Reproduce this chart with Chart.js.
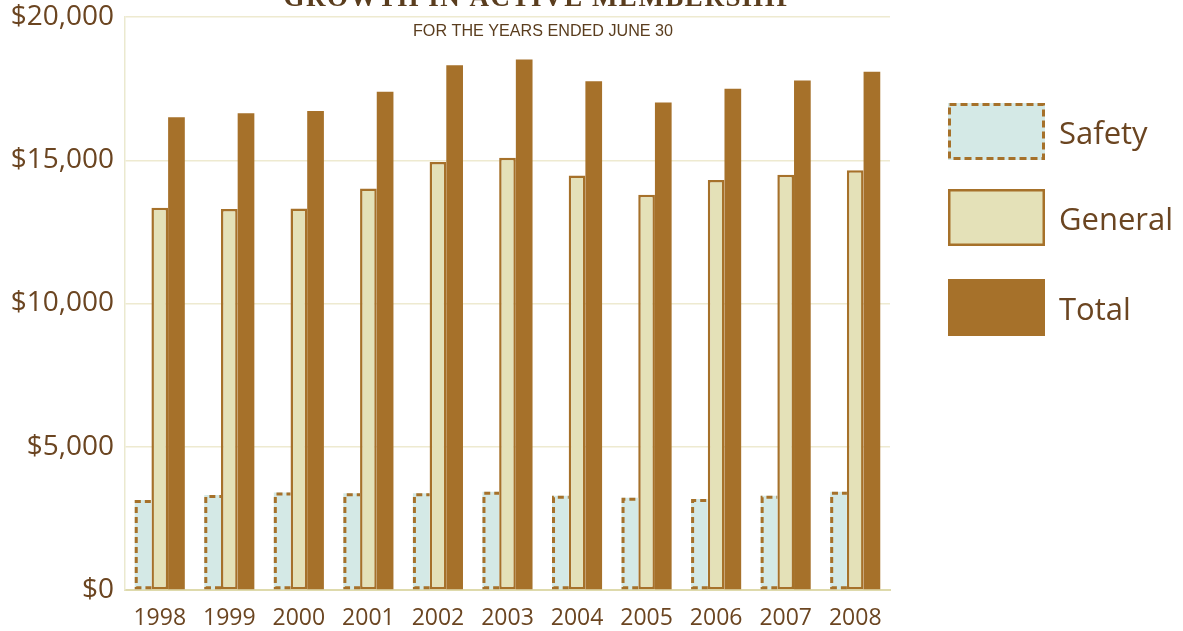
<!DOCTYPE html>
<html>
<head>
<meta charset="utf-8">
<title>Growth in Active Membership</title>
<script src="https://cdn.jsdelivr.net/npm/chart.js@4.4.1/dist/chart.umd.min.js"></script>
<style>
  html, body { margin: 0; padding: 0; background: #fff; }
  #wrap { width: 1183px; height: 631px; }
</style>
</head>
<body>
<div id="wrap"><canvas id="membershipChart" width="1183" height="631"></canvas></div>
<script>
var years = ["1998", "1999", "2000", "2001", "2002", "2003", "2004", "2005", "2006", "2007", "2008"];
var safety = [3140, 3315, 3400, 3375, 3375, 3430, 3290, 3220, 3175, 3290, 3430];
var general = [13340, 13300, 13320, 14010, 14940, 15090, 14470, 13800, 14310, 14490, 14650];
var total = [16500, 16640, 16720, 17390, 18320, 18520, 17760, 17020, 17500, 17780, 18090];
var yTicks = [0, 5000, 10000, 15000, 20000];

var brown = "#a6712a";
var textBrown = "#6b4521";
var safetyFill = "#d4e9e6";
var generalFill = "#e4e1b8";

// safety bars get a dashed outline (left, top, bottom) drawn on top of the fill
var dashedSafety = {
  id: "dashedSafety",
  afterDatasetDraw: function (chart, args) {
    if (args.index !== 0) return;
    var ctx = chart.ctx;
    ctx.save();
    ctx.strokeStyle = brown;
    ctx.lineWidth = 3;
    ctx.setLineDash([6, 4]);
    args.meta.data.forEach(function (bar) {
      var p = bar.getProps(["x", "y", "base", "width"], true);
      var l = p.x - p.width / 2 + 1.5;
      var r = p.x + p.width / 2;
      ctx.beginPath();
      ctx.moveTo(r, p.base - 1.5);
      ctx.lineTo(l, p.base - 1.5);
      ctx.lineTo(l, p.y + 1.5);
      ctx.lineTo(r, p.y + 1.5);
      ctx.stroke();
    });
    ctx.restore();
  }
};

// headline and subheading
var headings = {
  id: "headings",
  afterDraw: function (chart) {
    var ctx = chart.ctx;
    ctx.save();
    ctx.fillStyle = "#5a3d1e";
    ctx.textAlign = "center";
    ctx.textBaseline = "alphabetic";
    ctx.font = "bold 27px 'Liberation Serif'";
    ctx.letterSpacing = "1.5px";
    ctx.fillText("GROWTH IN ACTIVE MEMBERSHIP", 539, 6);
    ctx.letterSpacing = "0px";

    var sub = "FOR THE YEARS ENDED JUNE 30";
    ctx.font = "16px 'Liberation Sans'";
    var w = ctx.measureText(sub).width;
    ctx.translate(543, 36);
    ctx.scale(260 / w, 1);
    ctx.fillText(sub, 0, 0);
    ctx.restore();
  }
};

// legend boxes on the right
var sideLegend = {
  id: "sideLegend",
  afterDraw: function (chart) {
    var ctx = chart.ctx;
    var tops = [103, 189, 279];
    ctx.save();
    chart.data.datasets.forEach(function (ds, i) {
      var x = 948, y = tops[i], w = 97, h = 57;
      ctx.fillStyle = ds.backgroundColor;
      ctx.fillRect(x, y, w, h);
      if (i === 0) {
        ctx.strokeStyle = brown;
        ctx.lineWidth = 3;
        ctx.setLineDash([7, 4]);
        ctx.strokeRect(x + 1.5, y + 1.5, w - 3, h - 3);
        ctx.setLineDash([]);
      } else if (i === 1) {
        ctx.strokeStyle = brown;
        ctx.lineWidth = 2.5;
        ctx.strokeRect(x + 1.25, y + 1.25, w - 2.5, h - 2.5);
      }
      ctx.fillStyle = textBrown;
      ctx.font = "31px 'Open Sans'";
      ctx.textAlign = "left";
      ctx.textBaseline = "middle";
      ctx.fillText(ds.label, 1059, y + h / 2 + 4);
    });
    ctx.restore();
  }
};

var ctx = document.getElementById("membershipChart");

new Chart(ctx, {
  type: "bar",
  data: {
    labels: years,
    datasets: [
      {
        label: "Safety",
        data: safety,
        backgroundColor: safetyFill,
        borderWidth: 0
      },
      {
        label: "General",
        data: general,
        backgroundColor: generalFill,
        borderColor: brown,
        borderWidth: 2.5,
        borderSkipped: false
      },
      {
        label: "Total",
        data: total,
        backgroundColor: brown,
        borderWidth: 0
      }
    ]
  },
  options: {
    responsive: false,
    animation: false,
    devicePixelRatio: 1,
    layout: {
      padding: { top: 17, right: 293, left: 0, bottom: 0 }
    },
    datasets: {
      bar: {
        categoryPercentage: 0.72,
        barPercentage: 1.0
      }
    },
    plugins: {
      legend: { display: false },
      tooltip: { enabled: false }
    },
    scales: {
      x: {
        afterFit: function (scale) {
          scale.height = 41;
        },
        grid: { display: false, drawTicks: false },
        border: { color: "#dedaac", width: 2 },
        ticks: {
          color: textBrown,
          font: { family: "'Open Sans'", size: 23 },
          padding: 15
        }
      },
      y: {
        min: 0,
        max: 20000,
        afterFit: function (scale) {
          scale.width = 125;
          scale.paddingTop = 0;
          scale.paddingBottom = 0;
        },
        afterBuildTicks: function (axis) {
          axis.ticks = yTicks.map(function (v) {
            return { value: v };
          });
        },
        grid: { color: "#eeead0", lineWidth: 1.5, drawTicks: false },
        border: { color: "#ebe9cf", width: 1.5 },
        ticks: {
          color: textBrown,
          font: { family: "'Open Sans'", size: 28 },
          padding: 11,
          callback: function (value) {
            return "$" + Number(value).toLocaleString("en-US");
          }
        }
      }
    }
  },
  plugins: [dashedSafety, headings, sideLegend]
});
</script>
</body>
</html>
